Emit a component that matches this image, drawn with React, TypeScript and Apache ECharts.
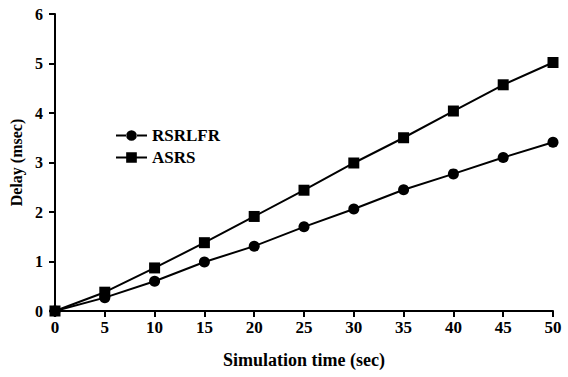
import React, { useEffect, useRef } from "react";
import * as echarts from "echarts";

const times = [0, 5, 10, 15, 20, 25, 30, 35, 40, 45, 50];
const rsrlfr = [0, 0.27, 0.6, 0.99, 1.31, 1.7, 2.06, 2.45, 2.77, 3.1, 3.41];
const asrs = [0, 0.38, 0.87, 1.38, 1.91, 2.44, 2.99, 3.5, 4.04, 4.57, 5.02];
const yTicks = [0, 1, 2, 3, 4, 5, 6];

const FONT = "Liberation Serif";

const circleIcon =
  "path://M0,4.5h11v2h-11z M10.5,5.5a5.5,5.5 0 1,0 11,0a5.5,5.5 0 1,0 -11,0z M21,4.5h11v2h-11z";
const squareIcon = "path://M0,4.5h32v2h-32z M10.5,0h11v11h-11z";

export default function App() {
  const ref = useRef<HTMLDivElement>(null);
  useEffect(() => {
    if (!ref.current) return;
    const chart = echarts.init(ref.current, null, { renderer: "svg" });
    const line = { show: true, lineStyle: { color: "#000", width: 2 } };
    const tick = { show: true, inside: false, length: 6, lineStyle: { color: "#000", width: 2 } };
    chart.setOption({
      animation: false,
      backgroundColor: "#fff",
      grid: { left: 55, right: 15, top: 14, bottom: 66, containLabel: false },
      legend: {
        show: true,
        orient: "vertical",
        left: 111,
        top: 122,
        itemWidth: 31,
        itemHeight: 11,
        itemGap: 5,
        textStyle: { color: "#000", fontFamily: FONT, fontWeight: "bold", fontSize: 17 },
        data: [
          { name: "RSRLFR", icon: circleIcon },
          { name: "ASRS", icon: squareIcon },
        ],
      },
      xAxis: {
        type: "value",
        min: 0,
        max: 50,
        interval: 5,
        name: "Simulation time (sec)",
        nameLocation: "middle",
        nameGap: 40,
        axisLine: line,
        axisTick: tick,
        splitLine: { show: false },
        axisLabel: { color: "#000", fontFamily: FONT, fontWeight: "bold", fontSize: 17, margin: 8 },
        nameTextStyle: { color: "#000", fontFamily: FONT, fontWeight: "bold", fontSize: 18 },
      },
      yAxis: {
        type: "value",
        min: 0,
        max: 6,
        interval: 1,
        name: "Delay (msec)",
        nameLocation: "middle",
        nameGap: 31,
        axisLine: line,
        axisTick: tick,
        splitLine: { show: false },
        axisLabel: {
          color: "#000",
          fontFamily: FONT,
          fontWeight: "bold",
          fontSize: 16,
          margin: 12,
          formatter: (v: number) => (yTicks.includes(v) ? String(v) : ""),
        },
        nameTextStyle: { color: "#000", fontFamily: FONT, fontWeight: "bold", fontSize: 16 },
      },
      series: [
        {
          name: "RSRLFR",
          type: "line",
          data: times.map((t, i) => [t, rsrlfr[i]]),
          symbol: "circle",
          symbolSize: 11,
          lineStyle: { color: "#000", width: 2 },
          itemStyle: { color: "#000" },
          z: 3,
        },
        {
          name: "ASRS",
          type: "line",
          data: times.map((t, i) => [t, asrs[i]]),
          symbol: "rect",
          symbolSize: 11,
          lineStyle: { color: "#000", width: 2 },
          itemStyle: { color: "#000" },
          z: 4,
        },
      ],
    });
    return () => chart.dispose();
  }, []);
  return <div ref={ref} style={{ width: 568, height: 377, position: "absolute", left: 0, top: 0 }} />;
}
